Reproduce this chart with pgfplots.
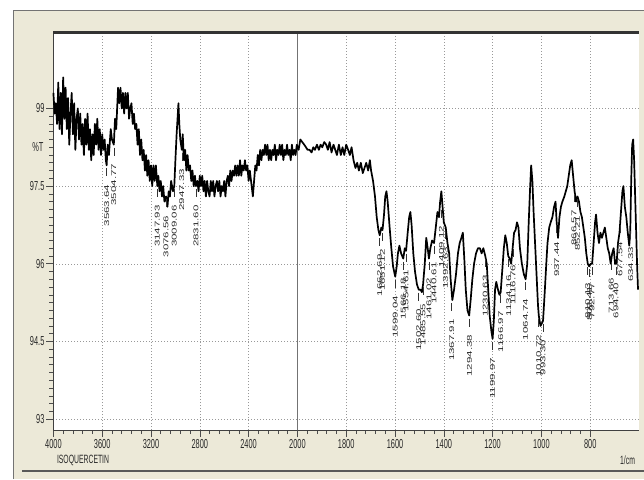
\documentclass[border=0pt]{standalone}
\usepackage{pgfplots}
\usepackage{pgfplotstable}
\pgfplotsset{compat=1.18}
\usepackage{fontspec}
\setmainfont{Liberation Sans}
\definecolor{panel}{RGB}{236,233,216}
\definecolor{txt}{RGB}{40,40,40}

\pgfplotstableread{
wn T
4000 99.3
3990 98.9
3980 99.1
3970 98.7
3960 99.5
3950 98.6
3940 99.3
3930 98.5
3920 99.6
3910 98.8
3900 99.4
3890 98.6
3880 99.2
3870 98.3
3860 98.9
3850 99.3
3840 98.5
3830 99.1
3820 98.2
3810 98.8
3800 99.0
3790 98.4
3780 98.9
3770 98.3
3760 98.7
3750 98.1
3740 98.8
3730 98.3
3720 98.9
3710 98.2
3700 98.6
3690 98.0
3680 98.5
3670 98.1
3660 98.7
3650 98.3
3640 98.8
3630 98.2
3620 98.6
3610 98.1
3600 98.5
3590 98.2
3580 98.4
3570 98.0
3563.64 97.9
3555 98.3
3545 98.1
3530 98.6
3520 98.4
3504.77 98.3
3495 98.8
3485 98.6
3470 99.4
3460 99.1
3450 99.4
3440 99.0
3430 99.3
3420 98.9
3410 99.3
3400 99.0
3390 99.3
3380 98.8
3370 99.0
3360 99.1
3350 98.7
3340 98.9
3330 98.6
3320 98.7
3310 98.3
3300 98.6
3290 98.1
3280 98.4
3270 98.0
3260 98.2
3250 97.8
3240 98.1
3230 97.7
3220 98.0
3210 97.6
3200 97.9
3190 97.5
3180 97.9
3170 97.6
3160 97.9
3147.93 97.5
3140 97.7
3130 97.4
3120 97.6
3110 97.3
3100 97.5
3090 97.2
3076.56 97.3
3065 97.1
3055 97.4
3045 97.3
3035 97.6
3020 97.4
3009.06 97.5
3000 98.0
2990 98.5
2980 98.9
2975 99.1
2968 98.7
2960 98.4
2947.33 98.2
2940 98.5
2930 98.0
2920 98.2
2910 97.8
2900 98.1
2890 97.8
2880 97.9
2870 97.6
2860 97.8
2850 97.5
2840 97.7
2831.60 97.5
2820 97.6
2810 97.4
2800 97.7
2790 97.5
2780 97.7
2770 97.4
2760 97.6
2750 97.3
2740 97.6
2730 97.4
2720 97.3
2710 97.6
2700 97.4
2690 97.6
2680 97.3
2670 97.5
2660 97.6
2650 97.4
2640 97.6
2630 97.3
2620 97.5
2610 97.4
2600 97.6
2590 97.3
2580 97.6
2570 97.7
2560 97.5
2550 97.8
2540 97.6
2530 97.8
2520 97.7
2510 97.9
2500 97.7
2490 97.9
2480 97.7
2470 98.0
2460 97.7
2450 97.9
2440 97.8
2430 98.0
2420 97.8
2410 97.9
2400 97.6
2390 97.8
2375 97.5
2365 97.3
2355 97.6
2345 97.9
2335 97.8
2325 98.1
2315 97.9
2305 98.2
2295 98.0
2285 98.2
2275 98.1
2265 98.3
2255 98.1
2245 98.3
2235 98.0
2225 98.2
2215 98.0
2205 98.2
2195 98.1
2185 98.3
2175 98.0
2165 98.2
2155 98.1
2145 98.3
2135 98.1
2125 98.3
2115 98.0
2105 98.2
2095 98.1
2085 98.3
2075 98.1
2065 98.2
2055 98.0
2045 98.3
2035 98.1
2025 98.2
2015 98.1
2005 98.3
1995 98.2
1988 98.4
1980 98.35
1972 98.3
1965 98.25
1958 98.2
1950 98.2
1942 98.15
1935 98.25
1928 98.2
1920 98.3
1912 98.2
1905 98.3
1898 98.25
1890 98.35
1882 98.3
1875 98.2
1868 98.35
1860 98.15
1852 98.3
1845 98.2
1838 98.1
1830 98.3
1822 98.1
1815 98.25
1808 98.1
1800 98.3
1792 98.2
1785 98.1
1778 98.25
1770 98.0
1762 97.85
1755 97.95
1748 97.8
1740 97.95
1732 97.75
1725 97.85
1718 97.95
1710 97.8
1703 98.0
1698 97.8
1690 97.6
1682 97.3
1675 96.9
1668 96.65
1662.69 96.55
1656 96.7
1651.12 96.65
1645 96.95
1640 97.3
1635 97.4
1630 97.2
1622 96.7
1615 96.3
1608 95.95
1599.04 95.75
1593 95.95
1588 96.2
1582 96.35
1575 96.2
1566.18 96.1
1560 96.3
1554.61 96.25
1548 96.6
1542 96.9
1537 97.0
1532 96.75
1525 96.2
1518 95.85
1510 95.6
1502.60 95.5
1495 95.5
1490 95.45
1485 95.6
1478 96.0
1472 96.5
1466 96.3
1461 96.1
1455 96.3
1448 96.45
1440 96.4
1433 96.7
1426 97.0
1420 96.9
1415 97.2
1410 97.4
1405 97.1
1400 96.8
1392 96.7
1385 96.4
1378 96.2
1372 95.7
1365 95.3
1358 95.5
1350 95.8
1342 96.2
1335 96.4
1328 96.5
1322 96.6
1316 96.1
1310 95.5
1303 95.1
1296 95.0
1290 95.3
1283 95.7
1276 96.0
1268 96.2
1260 96.3
1252 96.3
1245 96.2
1238 96.3
1230 96.15
1224 96.0
1218 95.5
1212 95.0
1205 94.7
1200 94.55
1195 94.9
1190 95.5
1185 95.65
1178 95.5
1172 95.4
1166.97 95.45
1160 95.9
1154 96.3
1148 96.55
1142 96.4
1136 96.15
1130 96.1
1124 96.0
1118 96.3
1112 96.6
1106 96.65
1100 96.8
1094 96.7
1088 96.3
1080 96.0
1072 95.8
1064.74 95.7
1058 96.0
1052 96.8
1046 97.5
1042 97.9
1037 97.6
1032 97.0
1026 96.4
1020 95.8
1014 95.2
1010.72 95.0
1004 94.8
998 94.85
993.30 94.9
987 95.4
980 96.0
975 96.4
968 96.7
962 96.8
955 96.9
948 97.1
942 97.2
937.44 96.8
932 96.5
926 96.9
920 97.1
914 97.2
906 97.3
900 97.4
894 97.5
888 97.7
882 97.9
876 98.0
870 97.7
864 97.4
858 97.2
852 97.3
846 97.2
840 97.0
834 96.9
828 96.7
822 96.5
816 96.2
810 96.0
804 95.95
798 96.0
792 96.0
786 96.4
780 96.8
776 96.95
770 96.6
764 96.4
758 96.6
752 96.5
746 96.6
740 96.7
734 96.5
728 96.3
722 96.2
716 96.0
710 96.2
704 96.3
698 96.0
692 96.0
686 96.4
680 96.6
674 97.0
668 97.4
664 97.5
658 97.1
652 96.9
646 96.6
640 96.35
636 96.6
632 97.6
628 98.3
624 98.4
620 98.0
614 97.0
608 96.0
604 95.5
}\spectrum

\pgfplotstableread{
wn T lab
3563.64 97.9 3563.64
3504.77 98.3 3504.77
3147.93 97.5 3147.93
3076.56 97.3 3076.56
3009.06 97.5 3009.06
2947.33 98.2 2947.33
2831.60 97.5 2831.60
1662.69 96.55 1662.69
1651.12 96.65 1651.12
1599.04 95.75 1599.04
1566.18 96.1 1566.18
1554.61 96.25 1554.61
1502.60 95.5 1502.60
1485.55 95.6 1485.55
1461.02 96.1 1461.02
1440.61 96.4 1440.61
1409.12 97.1 1409.12
1392.63 96.7 1392.63
1367.91 95.3 1367.91
1294.38 95.0 1294.38
1230.63 96.15 1230.63
1199.97 94.55 1199.97
1166.97 95.45 1166.97
1134.16 96.15 1134.16
1116.76 96.35 1116.76
1064.74 95.7 1064.74
1010.72 95.0 1010.72
993.30 94.9 993.30
937.44 96.8 937.44
866.57 97.4 866.57
852.21 97.3 852.21
810.13 96.0 810.13
802.41 95.95 802.41
792.77 96.0 792.77
713.66 96.1 713.66
694.40 96.0 694.40
677.54 96.8 677.54
634.33 96.7 634.33
}\peaks

\begin{document}
\begin{tikzpicture}[x=1pt,y=1pt]
\path[use as bounding box] (0,0) rectangle (644,479);
\fill[white] (0,0) rectangle (644,479);
\fill[panel] (13.5,0) rectangle (644,469);
\draw[black!55, line width=0.8pt] (13.5,0) -- (13.5,469) -- (644,469);
\draw[black!65, line width=2.5pt] (22,8) -- (644,8);
\begin{axis}[
  at={(53.4pt,49pt)}, anchor=south west,
  scale only axis, width=585.6pt, height=397.7pt,
  xmin=0, xmax=12, ymin=92.79, ymax=100.47,
  axis background/.style={fill=white},
  axis lines*=left,
  axis line style={black!75, line width=0.6pt},
  tick align=outside,
  xtick={0,1,2,3,4,5,6,7,8,9,10,11},
  xticklabels={4000,3600,3200,2800,2400,2000,1800,1600,1400,1200,1000,800},
  ytick={93,94.5,96,97.5,99},
  yticklabels={93,94.5,96,97.5,99},
  minor x tick num=4, minor y tick num=9,
  major tick length=7pt, minor tick length=4pt,
  tick style={black!70, line width=0.6pt},
  grid=major,
  major grid style={black!40, dash pattern=on 1pt off 2pt},
  extra x ticks={5}, extra x tick labels={},
  extra x tick style={grid=major, major grid style={solid, black!55, line width=0.7pt}},
  ticklabel style={font=\fontsize{13}{13}\selectfont, text=txt, xscale=0.57},
  xticklabel style={yshift=1pt},
  x filter/.expression={(x>=2000)*((4000-x)/400) + (x<2000)*(5+(2000-x)/200)},
  clip=false,
]
\addplot[black, line width=1.7pt, line join=round] table[x=wn, y=T] {\spectrum};
\addplot[only marks, mark=|, mark size=4pt,
  mark options={yshift=-7pt, black!80, line width=0.6pt},
  point meta=explicit symbolic,
  nodes near coords,
  nodes near coords align={anchor=east},
  every node near coord/.append style={yshift=-12pt, xscale=0.6, rotate=90, anchor=east, inner sep=0pt, font=\fontsize{11.5}{11.5}\selectfont, text=txt}]
  table[x=wn, y=T, meta=lab] {\peaks};
\draw[black!80, line width=2.5pt] (rel axis cs:0,1) -- (rel axis cs:1,1);
\node[anchor=east, xscale=0.57, font=\fontsize{13}{13}\selectfont, text=txt] at (rel axis cs:0,0.711) [xshift=-14pt] {\%T};
\end{axis}
\node[anchor=west, xscale=0.57, font=\fontsize{12}{12}\selectfont, text=txt] at (55,18.5) {ISOQUERCETIN};
\node[anchor=east, xscale=0.57, font=\fontsize{12}{12}\selectfont, text=txt] at (637,18.5) {1/cm};
\end{tikzpicture}
\end{document}
